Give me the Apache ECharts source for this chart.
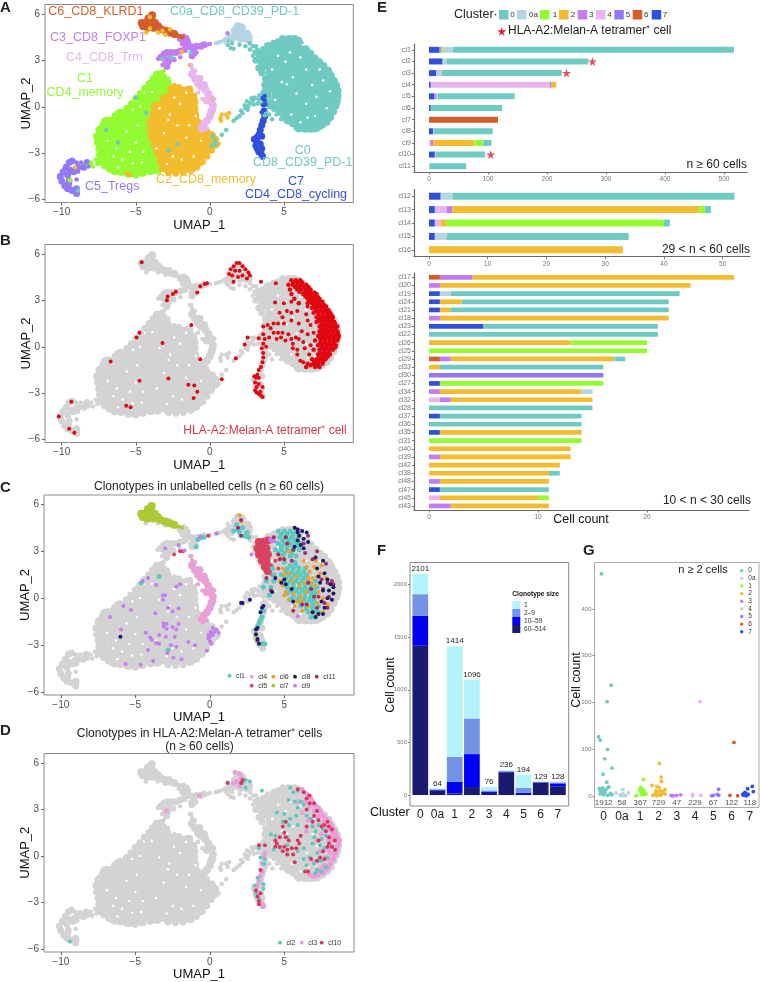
<!DOCTYPE html>
<html><head><meta charset="utf-8">
<style>html,body{margin:0;padding:0;background:#fff}#c{width:760px;height:982px}</style>
<script src="https://cdn.jsdelivr.net/npm/echarts@6/dist/echarts.min.js"></script>
</head><body><div id="c"></div>
<script>
// ---------- UMAP cluster points ----------
const c0Core=[[5.0,4.2],[5.5,4.25],[5.9,4.2],
[4.1,3.7],[4.5,3.75],[5.0,3.7],[5.5,3.7],[6.0,3.7],[6.4,3.6],
[3.6,3.2],[4.2,3.2],[4.7,3.2],[5.2,3.2],[5.7,3.2],[6.2,3.2],[6.7,3.15],[7.0,3.0],
[3.6,2.7],[4.0,2.7],[4.5,2.7],[5.0,2.7],[5.5,2.7],[6.0,2.7],[6.5,2.7],[7.0,2.7],[7.5,2.6],
[4.1,2.2],[4.7,2.2],[5.2,2.2],[5.7,2.2],[6.2,2.2],[6.7,2.2],[7.2,2.2],[7.7,2.2],[8.0,2.05],
[4.0,1.7],[4.5,1.7],[5.0,1.7],[5.5,1.7],[6.0,1.7],[6.5,1.7],[7.0,1.7],[7.5,1.7],[8.0,1.7],[8.2,1.6],
[3.9,1.2],[4.3,1.2],[4.8,1.2],[5.3,1.2],[5.8,1.2],[6.3,1.2],[6.8,1.2],[7.3,1.2],[7.8,1.2],[8.4,1.2],
[3.8,0.7],[4.5,0.7],[5.0,0.7],[5.5,0.7],[6.0,0.7],[6.5,0.7],[7.0,0.7],[7.5,0.7],[8.0,0.7],[8.5,0.7],
[4.2,0.2],[4.7,0.2],[5.2,0.2],[5.7,0.2],[6.2,0.2],[6.7,0.2],[7.2,0.2],[7.7,0.2],[8.2,0.2],[8.45,0.3],
[4.9,-0.3],[5.4,-0.3],[5.9,-0.3],[6.4,-0.3],[6.9,-0.3],[7.4,-0.3],[7.9,-0.3],[8.2,-0.25],
[5.3,-0.8],[5.7,-0.8],[6.2,-0.8],[6.7,-0.8],[7.2,-0.8],[7.7,-0.8],[7.9,-0.7],
[6.0,-1.3],[6.5,-1.3],[7.0,-1.3],[7.3,-1.2]];
const c0Edge=[[4.6,4.2],[4.9,4.4],[5.3,4.4],[5.7,4.4],[6.1,4.1],[6.5,3.75],[6.8,3.45],[7.1,3.15],[7.4,2.9],[7.7,2.65],[8,2.35],[8.2,2],[8.4,1.7],[8.55,1.4],[8.65,1.05],[8.65,0.7],[8.6,0.4],[8.5,0.05],[8.35,-0.3],[8.15,-0.7],[7.9,-1],[7.6,-1.2],[7.2,-1.4],[6.8,-1.45],[6.4,-1.45],[6,-1.4],[5.6,-1.1],[5.3,-0.85],[5,-0.55],[4.7,-0.3],[4.4,-0.1],[4.05,0.05],[3.8,0.4],[3.65,0.9],[3.7,1.4],[3.75,1.8],[3.5,2.2],[3.3,2.5],[3.1,3],[3.3,3.4],[3.6,3.7],[3.9,3.95],[4.3,4.1]];
const c0Dots=[[1.6,-0.9],[1.8,-0.75],[2.0,-0.6],[2.2,-0.4],[2.1,-0.25],[2.4,-0.1],[2.35,0.1],[2.6,0.05],[2.7,0.25],[2.5,0.35],[2.9,0.4],[3.1,0.55],[3.2,0.2],[3.35,0.75],
[3.0,0.6],[3.3,0.45],[2.8,0.55],[3.6,0.3],[3.9,0.1],[3.8,-0.3],[4.0,-0.5],[3.7,-0.55],[4.3,-0.2],[4.5,-0.5],[4.2,-0.8],[4.8,-0.8],[2.55,-0.2],[2.95,0.15],[3.45,0.2],
[1.2,4.0],[1.4,3.8],[1.6,3.75],[2.0,4.0],[2.4,3.9],[2.7,3.7],[3.0,3.55],[3.2,3.35],[2.9,3.9],[2.7,4.1],[3.4,3.6],[3.6,3.7],[3.2,3.7],[1.2,4.3],[1.5,4.1],[2.9,3.3],[3.1,3.9],
[0.2,-1.9],[1.1,-1.5],[0.8,-1.8],[0.4,-2.4],[0.1,-2.5],[0.35,-2.2],[-2.2,-2.4],[-2.8,-2.8],[-6.2,-2.3],[-7,-1.5],[-5,0.6],[-4.3,-0.4],[-8.9,-5.4],[-2.4,3.1],[-1.3,3.5],[-3.2,3.1],[-2.6,3.2]];
const c0aCore=[[1.9,5.2],[2.15,5.1],[1.7,4.9],[2.1,4.75],[2.5,4.7],[1.6,4.5],[2.05,4.4],[2.6,4.35],[1.35,4.4],[1.85,5.0]];
const c0aDots=[[0.7,4.2],[0.4,4.1],[0.95,4.3],[0.55,4.15],[1.1,4.4],[2.75,4.55],[2.35,4.3],[1.05,4.15]];
const c1Core=[[-3.5,1.9],[-3.55,1.5],[-3.25,1.5],[-2.95,1.5],[-4.0,1.0],[-3.7,1.0],[-3.35,1.0],[-3.0,1.0],
[-4.5,0.5],[-4.2,0.5],[-3.9,0.5],[-3.5,0.5],[-5.1,0],[-4.8,0],[-4.4,0],[-4.0,0],
[-6.1,-0.5],[-5.7,-0.5],[-5.3,-0.5],[-4.8,-0.5],[-4.3,-0.5],
[-7.0,-1],[-6.5,-1],[-6,-1],[-5.5,-1],[-5,-1],[-4.5,-1],[-4.2,-1],
[-7.3,-1.5],[-6.8,-1.5],[-6.3,-1.5],[-5.8,-1.5],[-5.3,-1.5],[-4.8,-1.5],[-4.3,-1.5],
[-7.4,-2],[-7,-2],[-6.5,-2],[-6,-2],[-5.5,-2],[-5,-2],[-4.5,-2],[-4.1,-2],
[-7.2,-2.5],[-6.8,-2.5],[-6.3,-2.5],[-5.8,-2.5],[-5.3,-2.5],[-4.8,-2.5],[-4.3,-2.5],[-3.9,-2.5],
[-7.2,-3],[-6.5,-3],[-6,-3],[-5.5,-3],[-5,-3],[-4.5,-3],[-4,-3],[-3.7,-3],
[-7.2,-3.5],[-6.8,-3.5],[-6.3,-3.5],[-5.8,-3.5],[-5.3,-3.5],[-4.8,-3.5],[-4.3,-3.5],[-3.8,-3.5],[-3.5,-3.5],
[-6.5,-4],[-6,-4],[-5.5,-4],[-5,-4],[-4.5,-4],[-4,-4],[-3.6,-4],[-5.5,-4.2],[-5.1,-4.2],[-4.6,-4.15]];
const c1Edge=[[-3.6,2.1],[-3.85,1.8],[-4.1,1.5],[-4.4,1.2],[-4.7,0.85],[-5,0.55],[-5.3,0.2],[-5.6,-0.1],[-6,-0.35],[-6.4,-0.6],[-6.8,-0.85],[-7.2,-1.15],[-7.5,-1.5],[-7.65,-1.9],[-7.6,-2.3],[-7.5,-2.7],[-7.45,-3.1],[-7.5,-3.5],[-7.1,-3.8],[-6.8,-4],[-6.4,-4.2],[-6,-4.25],[-5.5,-4.35],[-5,-4.4],[-4.5,-4.3],[-4,-4.2],[-3.5,-4.15],[-3.1,1.9],[-3.3,2.15]];
const c1Dots=[[-8,-3.6],[-7.7,-3.4],[-8.2,-3.8],[-7.9,-3.85],[-7.6,-3.7],[-9.45,-4.75],[-3.1,2.3],[-2.8,1.8]];
const c2Core=[[-2.5,1],[-2,1],[-1.5,1],[-3,0.5],[-2.5,0.5],[-2,0.5],[-1.5,0.5],[-1.2,0.5],
[-3.6,0],[-3.1,0],[-2.6,0],[-2.1,0],[-1.6,0],[-1.2,0],
[-3.7,-0.5],[-3.3,-0.5],[-2.8,-0.5],[-2.3,-0.5],[-1.8,-0.5],[-1.3,-0.5],[-1.1,-0.5],
[-3.9,-1],[-3.4,-1],[-2.9,-1],[-2.4,-1],[-1.9,-1],[-1.4,-1],[-1,-1],
[-3.9,-1.5],[-3.4,-1.5],[-2.9,-1.5],[-2.4,-1.5],[-1.9,-1.5],[-1.4,-1.5],[-0.9,-1.5],[-0.5,-1.5],
[-3.8,-2],[-3.3,-2],[-2.8,-2],[-2.3,-2],[-1.8,-2],[-1.3,-2],[-0.8,-2],[-0.3,-2],[0.1,-2],
[-3.6,-2.5],[-3.1,-2.5],[-2.6,-2.5],[-2.1,-2.5],[-1.6,-2.5],[-1.1,-2.5],[-0.6,-2.5],[-0.1,-2.5],[0.2,-2.4],
[-3.4,-3],[-2.9,-3],[-2.4,-3],[-1.9,-3],[-1.4,-3],[-0.9,-3],[-0.4,-3],
[-3.2,-3.5],[-2.7,-3.5],[-2.2,-3.5],[-1.7,-3.5],[-1.2,-3.5],[-0.7,-3.5],
[-2.8,-4],[-2.3,-4],[-1.8,-4],[-1.3,-3.95]];
const c2Edge=[[-1.35,1.15],[-1.1,0.7],[-1,0.3],[-1,-0.1],[-0.95,-0.6],[-0.8,-1],[-0.55,-1.2],[-0.2,-1.6],[0.15,-1.8],[0.4,-2.1],[0.4,-2.45],[0.1,-2.8],[-0.2,-3.2],[-0.5,-3.55],[-0.9,-3.9],[-1.3,-4.1],[-1.8,-4.25],[-2.3,-4.3],[-2.8,-4.25],[-3.2,-4],[-2.1,1.25],[-2.6,1.2]];
const c2Dots=[[0.7,-0.75],[0.8,-0.5],[1.1,-0.5],[1.3,-0.4],[0.75,-0.9],[1.2,-0.7],[0.2,0.5],[-2.4,1.4],[-2.5,1.25],[-5.6,-4.3],[-5.4,-4.4],[-3.3,-3.4],[-1.9,3.55],[-1.35,2.7],[-3.5,4.8],[-3.2,4.9],[-4.05,5.05],[-2.7,5.0],[-4.3,4.8],[-3.0,4.65],[-4.05,5.8],[-9.1,-3.9],[0.6,-2.4]];
const c3Core=[[-3.3,3.2],[-3.1,3.4],[-2.9,3.5],[-2.6,3.5],[-2.3,3.5],[-2.0,3.6],[-1.7,3.7],[-1.5,3.9],[-1.8,4.1],[-1.5,4.2],[-1.3,3.9],[-1.1,3.7],[-0.9,3.9],[-0.6,3.9],[-0.4,4.0],[-2.9,2.6],[-2.8,2.9],[-2.7,3.1],[-3.0,3.0],[-2.0,4.4],[-1.6,4.4],[-1.2,3.3]];
const c3Dots=[[-0.2,4.0],[0,4.05],[-2.0,3.2],[-2.4,3.0],[-1.0,3.4],[-0.9,3.5],[1.2,4.75],[-3.2,2.7],[-1.75,4.6],[-3.5,3.1]];
const c4Core=[[-1.2,2.1],[-1.0,1.8],[-0.8,1.5],[-0.6,1.3],[-0.3,1.1],[-0.1,0.8],[0.1,0.5],[0.2,0.1],[0.1,-0.3],[0,-0.6],[-0.2,-0.9],[-0.4,-1.1],[-0.5,-1.4],[-0.2,0.4],[-0.7,1.8],[-0.4,1.4]];
const c4Dots=[[-1.25,2.7],[-1.2,2.45],[-1.0,2.3],[-0.8,0.9],[-0.7,-1.3],[-0.2,-1.4],[0.3,0.5],[0.3,-0.2],[-0.5,0.5]];
const c5Core=[[-8.3,-3.6],[-8.5,-3.9],[-8.9,-3.9],[-9.3,-3.5],[-9.5,-3.6],[-9.7,-3.9],[-9.9,-4.2],[-10.1,-4.5],[-10.0,-4.8],[-9.8,-5.1],[-9.6,-5.3],[-9.3,-5.4],[-9.0,-5.6],[-9.6,-4.4],[-9.5,-4.8],[-9.2,-4.2],[-9.0,-5.3],[-9.4,-4.1],[-9.55,-5.05]];
const c5Dots=[[-8.2,-3.85],[-8.9,-4.2],[-9.0,-4.7],[-8.7,-3.6],[-9.0,-3.6]];
const c6Core=[[-4.6,5.4],[-4.3,5.4],[-4.0,5.5],[-3.9,5.9],[-4.2,5.1],[-3.8,5.1],[-3.5,5.2],[-3.3,5.0],[-3.0,4.9],[-2.7,4.8],[-2.4,4.7],[-4.5,5.2],[-3.95,5.7],[-4.15,5.7],[-3.7,5.4]];
const c6Dots=[[-2.2,4.6],[-2.0,4.55],[-1.85,4.5]];
const c7Core=[[3.7,-0.6],[3.6,-0.9],[3.5,-1.2],[3.4,-1.5],[3.3,-1.8],[3.15,-2.0],[3.0,-2.1],[3.2,-2.3],[3.1,-2.5],[3.2,-2.7],[3.3,-2.9],[3.45,-3.0],[3.55,-3.2],[3.5,-1.9],[3.4,-2.4],[3.5,-2.7]];
const c7Dots=[[3.7,0.7],[3.7,0.4],[3.6,0.1],[3.7,-0.2],[3.6,-0.2],[3.55,0.55],[3.75,0.15],[3.5,-0.35]];
const holes=[[4.6,3.3],[6.1,3.2],[6.5,2.4],[5.85,0.85],[7.2,0.65],[7.65,1.7],[5.6,1.9],[5.4,3.5],[7.9,-0.1],[6.6,-0.7],[4.85,1.6],[6.5,0.2],
[-2.7,-0.5],[-3.4,-0.1],[-2.8,-0.85],[-2.0,0.2],[-1.4,-1.2],[-2.5,-3.2],[-1.6,-2.0],[-4.7,0],[-5.2,-0.2],[-6.5,-3.2],[-5.9,-3.4],[-5.2,-3.65],[-6.2,-3.9],[-4.5,-2.9],[-3.9,0.95],[-0.95,-0.6],[-0.65,-0.2],
[-5.6,-1.6],[-6.3,-2.7],[-4.9,-1.2],[-4.6,-3.6],[-5.4,-2.9],[-6.9,-2.2],[-3.1,-1.7],[-2.2,-1.2],[-1.1,-3.2],[-2.9,-3.7],[-1.9,-3.4],[-0.6,-2.2],[-3.6,-2.7],[-2.4,0.6],[-1.6,0.9],[-5.0,-2.3],[5.1,2.9],[4.2,2.4],[6.9,1.4],[7.4,2.4],[8.1,1.0],[6.1,-1.0],[5.5,-0.5],[4.4,0.45],[6.3,4.0],[7.1,-0.6],[5.2,1.45]];
// ---------- panel B overlay ----------
const tetramerSparse=[[-4.6,5.45],[-6.7,-0.95],[-4.75,0.9],[-4.95,0.6],[-3.2,0.25],[-1.25,1.4],[-0.65,-0.8],[0.8,-2.1],[-4.75,-2.2],[-2.8,-2.05],[-1.45,-2.45],[-1.05,-2.5],[-0.85,-2.9],[-1.1,-3.3],[-5.65,-3.8],[-5.35,-3.9],[-9.35,-3.55],[-10.2,-4.5],[-9.5,-5.3],[-9.15,-5.55],[-2.3,3.55],[-2.5,3.4],[-2.85,3.25],[-2.9,3.0],[-0.85,3.5],[-0.65,3.9],[-0.35,4.05],[-0.2,4.1],[1.6,4.2],[1.75,-0.75],[2.35,0.15],[2.55,0.6],[3.3,0.55],[3.45,4.2],
[1.3,4.7],[1.4,5.0],[1.6,5.2],[1.8,5.4],[2.0,5.4],[2.2,5.2],[2.4,5.0],[2.6,4.8],[2.7,4.6],[1.7,4.9],[2.0,4.9],[2.2,4.6],[2.5,4.4],[1.9,4.5],[1.5,4.6],
[3.6,-0.7],[3.55,-1.0],[3.45,-1.3],[3.3,-1.5],[3.2,-1.8],[3.1,-2.0],[3.05,-2.3],[3.0,-1.9],[3.3,-2.0],[3.3,-2.4],[3.15,-2.6],[3.05,-2.8],[3.15,-2.95],[3.3,-3.05],[3.45,-3.15],[3.55,-3.25],[3.4,-2.9],[3.55,-2.6],
[4.45,4.1],[4.4,2.85],[5.0,2.8],[5.5,2.9],[6.0,2.8],[5.2,2.3],[4.7,2.2],[4.9,1.9],[5.5,2.2],[5.9,2.3],[6.5,2.1],[4.3,1.5],[3.9,1.4],[3.6,1.3],[4.1,1.2],[4.6,1.5],[5.0,1.5],[5.5,1.7],[4.3,0.9],[4.6,0.9],[4.9,0.9],[4.5,0.5],[4.8,0.6],[5.1,0.4],[5.3,0.8],[5.5,0.5],[3.6,0.8],[3.7,0.5],[3.6,0.2],[3.8,0.0],[4.0,0.6],[5.6,0.2],[5.8,0.6],[5.9,-0.2],[5.6,-0.1],[6.0,0.5],[6.3,0.3],[6.6,0.8],[6.2,1.0],[6.0,1.5],[6.6,1.7],[6.4,-0.1],[6.8,0.1],[5.9,-0.5],[6.1,-0.9],[6.3,-1.0],[6.7,-0.5],[7.0,0.9],[6.8,1.4],[6.6,2.6],[3.5,-0.1],[3.6,-0.4]];
const tetramerDense=[[5.5,4.3],[5.8,4.3],[6.1,4.3],[5.3,4.0],[5.6,4.0],[5.9,4.0],[6.2,4.0],[6.5,4.0],[5.4,3.7],[5.9,3.7],[6.2,3.7],[6.5,3.7],[6.8,3.7],[5.5,3.4],[6.3,3.4],[6.6,3.4],[6.9,3.4],[7.2,3.4],[5.7,3.1],[6.6,3.1],[6.9,3.1],[7.2,3.1],[7.4,3.1],[6.0,2.8],[6.6,2.8],[6.9,2.8],[7.2,2.8],[7.5,2.8],[7.7,2.7],[6.9,2.5],[7.2,2.5],[7.5,2.5],[7.8,2.5],[7.0,2.2],[7.3,2.2],[7.6,2.2],[7.9,2.2],[8.1,2.2],[7.2,1.9],[7.5,1.9],[7.8,1.9],[8.1,1.9],[8.3,1.9],[7.2,1.6],[7.5,1.6],[7.8,1.6],[8.1,1.6],[8.4,1.6],[7.4,1.3],[7.7,1.3],[8,1.3],[8.3,1.3],[8.6,1.3],[7.4,1],[7.7,1],[8,1],[8.3,1],[8.6,1],[7.3,0.7],[7.6,0.7],[7.9,0.7],[8.2,0.7],[8.5,0.7],[8.7,0.7],[7.1,0.4],[7.5,0.4],[7.8,0.4],[8.1,0.4],[8.4,0.4],[8.6,0.4],[7.3,0.1],[7.6,0.1],[7.9,0.1],[8.2,0.1],[8.5,0.1],[7,-0.2],[7.4,-0.2],[7.7,-0.2],[8,-0.2],[8.3,-0.2],[7.3,-0.5],[7.6,-0.5],[7.9,-0.5],[8.1,-0.5],[6.9,-0.8],[7.2,-0.8],[7.5,-0.8],[7.8,-0.8],[6.6,-1.1],[7,-1.1],[7.3,-1.1],[7.6,-1.1],[6.5,-1.3],[7.1,-1.3],[7.4,-1.3]];
const tetramerDense2=[[5.65,4.15],[5.95,4.15],[6.25,4.15],[5.75,3.85],[6.05,3.85],[6.35,3.85],[6.65,3.85],[6.05,3.55],[6.45,3.55],[6.75,3.55],[7.05,3.5],[6.45,3.25],[6.75,3.25],[7.05,3.25],[7.3,3.2],[6.75,2.95],[7.05,2.95],[7.35,2.95],[7.6,2.9],[7.05,2.65],[7.35,2.65],[7.65,2.65],[7.85,2.6],[7.15,2.35],[7.45,2.35],[7.75,2.35],[8.0,2.35],[7.35,2.05],[7.65,2.05],[7.95,2.05],[8.2,2.05],[7.35,1.75],[7.65,1.75],[7.95,1.75],[8.25,1.75],[7.55,1.45],[7.85,1.45],[8.15,1.45],[8.45,1.45],[7.55,1.15],[7.85,1.15],[8.15,1.15],[8.45,1.15],[7.45,0.85],[7.75,0.85],[8.05,0.85],[8.35,0.85],[8.65,0.85],[7.45,0.55],[7.75,0.55],[8.05,0.55],[8.35,0.55],[8.65,0.55],[7.45,0.25],[7.75,0.25],[8.05,0.25],[8.35,0.25],[7.55,-0.05],[7.85,-0.05],[8.15,-0.05],[8.45,-0.05],[7.45,-0.35],[7.75,-0.35],[8.05,-0.35],[7.4,-0.65],[7.7,-0.65],[7.95,-0.65],[7.05,-0.95],[7.35,-0.95],[7.65,-0.95],[6.8,-1.2],[7.2,-1.2]];
// ---------- panel C overlay (clonotypes in unlabelled cells) ----------
const clCCl1=[[4.6,4.3],[5,4.3],[5.4,4.3],[5.8,4.3],[4.7,3.9],[5.1,3.9],[5.5,3.9],[5.9,3.9],[4.6,3.5],[5,3.5],[5.4,3.5],[5.8,3.5],[6.1,3.5],[4.4,3.1],[4.8,3.1],[5.2,3.1],[5.6,3.1],[6,3.1],[4.9,2.7],[5.4,2.7],[5.8,2.7],[5,2.3],[5.7,2.3],[5.2,1.9],[5.6,1.9],[6,1.9],[6.4,1.9],[4.2,1.9],[4.3,1.5],[4.8,1.5],[5.3,1.5],[5.7,1.5],[6.1,1.5],[6.5,1.5],[3.8,1.1],[4.3,1.1],[5,1.1],[5.4,1.1],[5.8,1.1],[6.2,1.1],[6.6,1.1],[7.1,1.1],[3.6,0.7],[4.1,0.7],[5.2,0.7],[5.6,0.7],[6,0.7],[6.4,0.7],[6.8,0.7],[7.2,0.7],[5.2,0.3],[5.6,0.3],[6,0.3],[6.4,0.3],[6.8,0.3],[7.1,0.3],[5.4,-0.1],[5.9,-0.1],[6.3,-0.1],[6.7,-0.1],[7,-0.1],[6.1,-0.5],[6.5,-0.5],[6.9,-0.5],[7.3,-0.5],[6.6,-0.9],[7,-0.9],[7.3,-0.9],[6.8,-1.2],[7.1,-1.2],[1.8,4.7],[1.9,4.4],[2.0,4.2],[2.3,4.0],[2.6,3.9],[2.2,4.5],[2.5,4.2],[1.6,4.3],[3.5,-1.2],[3.3,-1.6],[3.4,-1.4],[3.6,-0.8],[4.0,0.2],[3.2,-1.8],[3.5,-2.9],[3.7,-2.9],[-0.9,3.3],[-0.6,3.9],[-0.4,3.9],[-0.8,3.75],[-2.8,-3.3],[-3.4,1.4],[-4.6,1.0],
[4.8,4.1],[5.2,4.1],[5.6,4.1],[4.9,3.7],[5.3,3.7],[5.7,3.7],[4.8,3.3],[5.2,3.3],[5.6,3.3],[6,3.3],[4.6,2.9],[5,2.9],[5.5,2.9],[5.4,2.1],[5.8,2.1],[5.1,1.7],[5.5,1.7],[5.9,1.7],[6.3,1.7],[5.1,1.3],[5.5,1.3],[5.9,1.3],[6.3,1.3],[5.2,0.9],[5.6,0.9],[6,0.9],[6.4,0.9],[6.8,0.9],[5.4,0.5],[5.8,0.5],[6.2,0.5],[6.6,0.5],[7,0.5],[5.6,0.1],[6,0.1],[6.4,0.1],[6.8,0.1],[6.1,-0.3],[6.5,-0.3],[6.9,-0.3],[6.5,-0.7],[6.9,-0.7],[7.1,-0.7]];
const clCCl5=[[3.3,3.6],[3.6,3.6],[3.9,3.7],[3.2,3.2],[3.5,3.2],[3.8,3.2],[3.3,2.8],[3.6,2.8],[3.9,2.8],[3.5,2.4],[3.8,2.4],[3.7,2.0],[4.0,2.0],[3.9,1.75]];
const clCCl5Dots=[[-2.4,2.8],[-2.0,3],[-1.8,3.0],[-0.1,4.0],[4.2,1.5],[4.6,1.9],[4.4,2.4]];
const clCCl6=[[4.9,1.9],[5.3,1.6],[4.7,1.1],[4.9,0.8],[5.1,0.4],[5,0.2],[5.3,-0.1],[5.6,0.3],[5.9,-0.2],[5.7,-0.5],[6.2,-0.8],[6,0.8],[6.4,1],[6.5,0.4],[6.9,1.3],[7.1,0.8],[7.3,0.4],[7.4,1.6],[7,2],[6.7,1.7],[6.5,2],[6.3,2.4],[7.5,2.1],[7.8,1.3],[7.6,0],[7.9,-0.4],[7.2,-0.3],[6.6,-0.5],[6.9,-0.9],[7.2,-1.1],[7.6,-0.9],[6.2,-0.2],[5.5,1.1],[5.8,1.4],[7.1,2.4],[6,4],[5.3,3],[4.8,2.6],[3.1,-2.4],[2,5.3],[2.1,4.9],[6.8,1],[6.6,1.3],[7.2,1.4],[5,1.5],[6.1,0.1]];
const clCCl8=[[5.7,4.5],[5.9,4.4],[6.2,4.3],[6.5,4.2],[6,4],[6.3,3.8],[5.9,3.7],[6.6,3.6],[6.1,3.4],[5.7,3.3],[6.3,3.2],[5.9,4.2],[7.1,2.6],[7.6,2.4],[7.2,1.9],[7.7,1.6],[7.3,1.4],[7.9,1.2],[8.1,0.9],[8.3,0.7],[8,0.5],[8.3,0.3],[7.9,0],[8.2,-0.1],[7.5,-0.2],[7.7,-0.6],[7.3,-1],[7.6,-1],[7.1,-1.2],[6.9,-0.9],[5,1.2],[5.1,0.9],[5.5,0.6],[4.8,1],[4.4,1.3],[4.2,0.4],[5.6,-0.2],[2.7,-0.1],[2.2,-0.3],[2.1,-0.3],[3.5,-0.6],[3.6,-0.5],[3.4,-0.9],[3.2,-1.9],[3.1,-2],[3.1,-2.3],[3.2,-2.6],[3.3,-2.9],[-6,-2.45],[7.4,1],[7.6,0.5]];
const clCCl9=[[-6.7,-1.2],[-5.8,-0.5],[-5.3,-0.75],[-5.95,-2],[-5.65,-4.2],[-4.65,-4.25],[-4.15,-3.3],[-3.8,-4],[-2.45,-3.8],[-1.9,-3.9],[-2.85,-3.5],[-2.6,-3],[-2.25,-3.1],[-1.45,-2.8],[-1,-3],[-0.2,-3.35],[-3.6,-2.85],[-3.4,-2.9],[-3.9,-2.65],[-4,-2.5],[-4.3,-2.2],[-3.65,-0.95],[-2.8,-0.6],[-2.5,-0.85],[-2.1,-0.65],[-3.1,-1.6],[-2.9,-1.65],[-3.1,-1.8],[-2.9,-1.95],[-2.5,-1.85],[-2.25,-2],[-2.1,-1.65],[-2.35,-2.45],[-2.95,-2.45],[-3.4,-2.35],[-3.15,0.2],[-3,0.2],[-3.15,-0.1],[-3.6,0.85],[-4.15,1.3],[-4.5,1.1],[-2.25,0.75],[-2,0.9],[-3,3.2],[-2.1,3.4],[-1.7,3.05],[-0.65,3.95],[0.45,4.15],[0.2,-1.9],[0.45,-2],[0.1,-2.25],[0,-2.45],[-0.1,-2.55],[0.2,-2.35],[0,-2.75],[0.1,-2.9],[0.6,-2.2],[0.3,-2.15],[-0.1,-2.35],[0.05,-2.15],[4.25,3.85],[4.15,3.65],[4.35,3.65],[4.05,3.75],[2.8,2.8],[5.9,-1.15]];
const clCCl11=[[4.3,3.9],[5.1,3.9],[5.2,3.5],[5.6,3.1],[4.6,2.8],[5.5,2.4],[4.7,2.5],[5,2.5],[6.4,2.9],[6.6,4],[6.3,3.5],[7.2,3],[6.9,2.5],[7.8,2.2],[7.5,1.2],[7.9,1],[8.2,1.1],[7.6,0.6],[6.8,0.6],[7.3,0.1],[7,0.1],[6.5,-0.4],[7.2,-0.6],[7.7,-0.3],[6.2,-0.4],[5.6,-0.8],[6.6,1],[2.1,4],[1.9,4.5],[2.1,5],[3.2,-2.7],[7.9,-0.6],[8,0.1],[8.3,0.9],[4.1,0.5],[3.8,1.3]];
// ---------- panel D overlay (clonotypes in tetramer+ cells) ----------
const clDCl3=[[6.2,4.3],[6.5,4],[6.8,3.7],[7,3.3],[7.3,3.1],[7.5,2.7],[7.8,2.4],[8,2.2],[8.2,1.9],[8.4,1.6],[8.5,1.3],[8.7,1],[8.6,0.7],[8.5,0.4],[8.4,0.1],[8.3,-0.2],[8.1,-0.5],[7.9,-0.8],[7.6,-1.1],[7.3,-1.2],[7,-1.3],[6.7,-1.2],[6.4,3.5],[6.7,3.2],[7,2.9],[7.3,2.5],[7.6,2.1],[7.9,1.8],[8.2,1.4],[8.3,1],[8.2,0.6],[8.1,0.2],[8,-0.2],[7.7,-0.6],[7.4,-0.9],[6.9,1.9],[6.6,2.3],[6.2,2.8],[7.5,1.4],[7.2,1],[5.9,3.5],[6.5,1.6],[7.4,0.3],[7,-0.4],[3.5,-1],[3.4,-1.3],[3.3,-1.6],[3.2,-1.9],[3.1,-2.3],[3.3,-2.8],[3.4,-3],[3.55,-3.15],[3.6,-3.25],[3.5,-0.5],[3.7,0.2],[3.65,0],[1.7,5.4],[2,5.3],[2.1,5],[1.8,4.8],[2,4.5],[-0.7,3.9],[-2.9,2.9],[2.3,4.9],[1.6,4.7],
[6.35,4.1],[6.65,3.85],[6.9,3.5],[7.15,3.2],[7.4,2.9],[7.65,2.55],[7.9,2.3],[8.1,2.05],[8.3,1.75],[8.45,1.45],[8.6,1.15],[8.65,0.85],[8.55,0.55],[8.45,0.25],[8.35,-0.05],[8.2,-0.35],[8,-0.65],[7.75,-0.95],[7.45,-1.05],[7.15,-1.25],[6.85,-1.25],[7.15,3.0],[7.4,2.7],[7.7,2.3],[8.05,1.7],[8.25,1.2],[8,1.05],[7.95,0.4],[7.8,-0.1],[7.55,-0.75]];
const clDCl2=[[5.4,4.4],[5.6,4.1],[5.9,4.2],[5.3,3.6],[5.7,3.5],[6.1,3.5],[5.9,3.1],[6.3,3.3],[4.5,2.8],[5,2.7],[5.4,2.4],[5.8,2.6],[4.9,2.2],[5.3,2],[5.9,2],[6.5,2.6],[6.8,2.4],[6.9,1.9],[7.3,2],[7.1,1.6],[7.6,1.7],[7.5,1.1],[7,1.2],[7.4,0.7],[7.7,0.5],[7.2,0.2],[7.9,-0.1],[7.5,-0.3],[7,-0.5],[6.7,-0.1],[6.3,-0.2],[5.9,0.3],[5.2,0.7],[4.7,0.5],[4.4,1.3],[4.1,1.4],[4.3,0.4],[3.3,0.5],[3.4,-0.1],[3.7,-0.2],[3.65,-0.5],[3.2,-1.4],[3.6,-1.8],[3.6,-2.1],[3,-1.9],[3.1,-2.4],[3.3,-2.8],[6.5,-0.6],[7.2,-0.9],[7.5,-1],[7.1,-1.1],[7.8,-0.7],[6.3,0.5],[6.9,0.8],[2.2,4.7],[2.4,4.4],[2.7,4.8],[2.4,4.9],[3.5,4.2],[-9.4,-5.5],[5.2,1.2],[7.8,1.3],[7.3,-0.3]];
const clDCl10=[[5.9,4.3],[6.3,4.1],[6.7,3.9],[6.5,3.7],[6.7,3.4],[6.5,3],[7,3.4],[7.2,2.9],[7,2.6],[7.3,2.3],[6.9,2.2],[7.9,2.2],[7.7,2],[8,1.9],[8.2,1.7],[7.8,1.6],[7.5,1.9],[8,1.2],[8.4,1],[8,0.8],[7.9,0.6],[8.2,0.6],[8.4,0.4],[7.6,0.3],[7.4,-0.1],[7.7,-0.2],[7.2,-0.3],[6.8,-0.2],[5.1,2.2],[4.9,1.9],[5,1.5],[5.1,1.2],[5.3,1],[4.7,1.2],[4.4,1],[4.5,0.8],[4.7,0.6],[5,0.6],[4.4,0.6],[4.9,0.3],[5.2,0.4],[5.5,0.5],[6,0.8],[6.1,1.3],[5.9,1],[5.8,0.5],[5.6,0.1],[5.7,-0.4],[5.2,0.1],[6.6,-1],[6.4,-1],[3.7,0.7],[3.3,0.7],[3.4,-0.9],[3.1,-2.2],[3.2,-2.6],[3.4,-2.4],[3.3,-2.9],[3.3,-3.1],[1.2,4.7],[2.2,4.9],[2.1,4.7],[7.3,1],[6.5,1.9]];
// ---------- panel E bars ----------
const e1Clones=['cl1','cl2','cl3','cl4','cl5','cl6','cl7','cl8','cl9','cl10','cl11'];
const e1C7=[18,23,12,3,9,3,0,7,0,10,0];
const e1C6=[0,0,0,0,0,0,117,0,0,0,0];
const e1C5=[0,0,0,0,0,0,0,0,0,0,0];
const e1C4=[0,0,0,202,0,0,0,0,3,0,0];
const e1C3=[3,0,1,3,3,0,0,0,4,0,0];
const e1C2=[1,0,0,7,0,0,0,0,70,0,0];
const e1C1=[3,0,0,1,0,0,0,0,15,0,0];
const e1C0a=[15,7,9,0,3,0,0,1,0,2,1];
const e1C0=[477,240,203,0,130,121,0,100,14,83,62];
const e1Stars=[[277,'cl2'],[233,'cl3'],[104.5,'cl10']];
const e2Clones=['cl12','cl13','cl14','cl15','cl16'];
const e2C7=[2,1,1,1,0];
const e2C6=[0,0,0,0,0];
const e2C5=[0,0,0,0,0];
const e2C4=[0,2,1,0,0];
const e2C3=[0,1,0,0,0];
const e2C2=[0,42,1,0,33];
const e2C1=[0,1,37,0,0];
const e2C0a=[2,0,0,2,0];
const e2C0=[48,1,1,31,0];
const e3Clones=['cl17','cl20','cl19','cl24','cl21','cl18','cl23','cl22','cl26','cl25','cl29','cl33','cl30','cl27','cl34','cl32','cl28','cl37','cl36','cl35','cl31','cl40','cl39','cl42','cl38','cl48','cl47','cl45','cl43'];
const e3C7=[0,0,1,1,1,0,5,0,0,0,0,0,0,1,0,0,0,1,0,1,0,0,0,0,0,0,1,0,0];
const e3C6=[1,0,0,0,0,0,0,0,0,0,1,0,0,0,0,0,0,0,0,0,0,0,0,0,0,0,0,0,0];
const e3C5=[0,0,0,0,0,0,0,0,0,0,0,0,16,0,0,0,0,0,0,0,0,0,0,0,0,0,0,0,0];
const e3C4=[0,0,0,0,0,0,0,0,0,0,0,0,0,0,0,1,0,0,0,0,0,0,0,0,0,0,0,1,0];
const e3C3=[3,1,0,0,0,1,0,0,0,0,1,0,0,0,1,1,0,0,0,0,0,0,1,0,0,1,0,0,2];
const e3C2=[24,23,0,2,1,21,0,0,13,0,15,1,0,0,13,13,0,0,0,13,0,13,12,12,11,10,0,9,9];
const e3C1=[0,0,0,0,0,0,0,0,7,20,0,0,0,15,0,0,0,0,0,0,14,0,0,0,0,0,0,1,0];
const e3C0a=[0,0,1,0,0,0,0,0,0,0,0,0,0,0,1,0,0,0,0,0,0,0,0,0,0,0,0,0,0];
const e3C0=[0,0,21,19,20,0,16,21,0,0,1,15,0,0,0,0,15,13,14,0,0,0,0,0,1,0,10,0,0];
// ---------- panel F ----------
const clusterNames=['0','0a','1','2','3','4','5','6','7'];
const fSize60to514=[1418,42,15,76,20,216,10,115,79];
const fSize10to59=[284,8,112,313,14,5,12,6,32];
const fSize2to9=[206,6,237,339,10,8,45,4,9];
const fSize1=[193,8,1050,368,32,7,127,4,8];
const fTotals=[2101,64,1414,1096,76,236,194,129,128];
const fSizeNames=['1','2–9','10–59','60–514'];
// ---------- panel G ----------
const gC0=[[-0.12,475],[0.41,237],[0.19,202],[-0.28,127],[-0.19,120],[0.21,100],[0.06,80],[0.45,60],[-0.03,47],[0.17,30],[-0.23,17],[-0.01,13],[0.27,20],[-0.19,12],[-0.1,9],[0.08,8],[0.36,5],[-0.19,5],[-0.01,3],[0.21,2],[0.45,3],[0.14,15],[-0.06,18],[0.28,19],[0.39,6],[-0.15,10]];
const gC0a=[[0.68,7],[1.05,14],[1.36,7],[0.9,3],[0.99,2],[1.12,2],[1.05,5],[0.94,1],[1.18,1]];
const gC1=[[2.18,36],[2.03,19],[2.09,15],[1.96,13],[2.21,12],[2.14,8],[2.27,5],[2.09,4],[1.76,1],[1.81,2],[2.32,5],[2.03,10],[2.18,3]];
const gC2=[[3.05,70],[3.14,41],[3.16,32],[2.65,23],[2.91,21],[3.02,19],[3.36,14],[2.87,12],[3.09,12],[3.27,10],[2.95,8],[3.18,6],[2.7,2],[2.99,3],[3.36,5],[3.12,2],[2.91,1],[2.82,5]];
const gC3=[[3.69,2],[3.82,1],[4.0,2],[4.22,3],[3.73,1]];
const gC4=[[5.27,202],[4.87,4],[4.87,1],[5.31,2]];
const gC5=[[6.29,15],[6.22,4],[5.91,1],[6.0,2],[6.3,2]];
const gC6=[[7.13,115],[6.91,2],[7.33,1]];
const gC7=[[8.13,21],[7.88,16],[8.19,10],[7.73,8],[7.64,5],[7.77,3],[7.61,3],[7.82,1],[7.68,2],[7.79,6],[7.91,4]];
const gCounts=[1912,58,367,729,47,229,67,122,118];
// ---------- colours / text ----------
const clusterColor={'0':'#6fcac2','0a':'#b5d5e5','1':'#94fb33','2':'#f3bc2e','3':'#c27df0','4':'#e8b5ef','5':'#9378f5','6':'#d45e2b','7':'#2f4fdc'};
const gray='#d3d3d3',FONT='"Liberation Sans",Arial,sans-serif';
const xTicks=[-10,-5,0,5],yTicks=[-6,-3,0,3,6];

const grids=[],xAxes=[],yAxes=[],series=[],graphic=[];
function txt(x,y,text,size,fill,o){o=o||{};graphic.push({type:'text',x,y,rotation:o.rot||0,z:50,silent:true,style:{text,fill,align:o.align||'left',verticalAlign:'middle',font:(o.bold?'bold ':'')+size+'px '+FONT}});}
function dot(x,y,r,fill){graphic.push({type:'circle',z:50,silent:true,shape:{cx:x,cy:y,r},style:{fill}});}
function square(x,y,w,h,fill){graphic.push({type:'rect',z:50,silent:true,shape:{x,y,width:w,height:h},style:{fill}});}
function fmtMinus(v){return String(v).replace('-','−');}
function umapPanel(l,t,w,h){
 const i=grids.length;
 grids.push({left:l,top:t,width:w,height:h,show:true,borderColor:'#8a8a8a',borderWidth:1,backgroundColor:'#fff'});
 xAxes.push({gridIndex:i,type:'value',min:-11.13,max:9.68,splitLine:{show:false},axisLine:{show:false,onZero:false},
  axisTick:{show:true,length:3,lineStyle:{color:'#666'},customValues:xTicks},
  axisLabel:{customValues:xTicks,formatter:fmtMinus,fontSize:10,color:'#4d4d4d',fontFamily:FONT,margin:5},
  name:'UMAP_1',nameLocation:'middle',nameGap:16,nameMoveOverlap:false,nameTextStyle:{fontSize:13,color:'#111',fontFamily:FONT}});
 yAxes.push({gridIndex:i,type:'value',min:-6.18,max:6.6,splitLine:{show:false},axisLine:{show:false,onZero:false},
  axisTick:{show:true,length:3,lineStyle:{color:'#666'},customValues:yTicks},
  axisLabel:{customValues:yTicks,formatter:fmtMinus,fontSize:10,color:'#4d4d4d',fontFamily:FONT,margin:5},
  name:'UMAP_2',nameLocation:'middle',nameGap:12,nameMoveOverlap:false,nameTextStyle:{fontSize:13,color:'#111',fontFamily:FONT}});
 return i;
}
function pts(i,name,data,size,color,z){series.push({type:'scatter',name,xAxisIndex:i,yAxisIndex:i,data,symbolSize:size,z:z||2,animation:false,silent:true,itemStyle:{color,opacity:1}});}
const clusterLayers=[['1',c1Core,c1Dots,c1Edge],['2',c2Core,c2Dots,c2Edge],['0',c0Core,c0Dots,c0Edge],['0a',c0aCore,c0aDots],['3',c3Core,c3Dots],['4',c4Core,c4Dots],['5',c5Core,c5Dots],['6',c6Core,c6Dots],['7',c7Core,c7Dots]];
const coreSize={'0':11,'1':11,'2':11,'0a':8.5,'3':7,'4':8,'5':7,'6':8,'7':7};
function silhouette(i,colored){
 clusterLayers.forEach(([k,core,dots,edge])=>{
  const col=colored?clusterColor[k]:gray;
  if(edge)pts(i,'C'+k+' edge',edge,7,col,2);
  pts(i,'C'+k,core,coreSize[k],col,2);
  pts(i,'C'+k+' cells',dots,4.5,col,3);
 });
 pts(i,'gaps',holes,2.5,'#fff',3);
}
// Panels A-D
const A=umapPanel(45,4.5,308.3,198); silhouette(A,true);
const B=umapPanel(45,244.5,308.3,198); silhouette(B,false);
pts(B,'tetramer+',tetramerDense,4.5,'#e1060f',5);pts(B,'tetramer+ 2',tetramerDense2,4.5,'#e1060f',5);pts(B,'tetramer+ cells',tetramerSparse,4,'#e1060f',5);
const C=umapPanel(44,495,310,200); silhouette(C,false);
pts(C,'cl7',c6Core,8,'#acc936',5);pts(C,'cl7 cells',c6Dots,4,'#acc936',5);
pts(C,'cl4',c4Core,7.5,'#e9a0d8',5);pts(C,'cl4 cells',c4Dots,4,'#e9a0d8',5);
pts(C,'cl5',clCCl5,8,'#d9435f',5);pts(C,'cl5 cells',clCCl5Dots,4,'#d9435f',5);
pts(C,'cl1',clCCl1,5,'#5cc8be',5);pts(C,'cl6',clCCl6,4,'#f0a025',6);pts(C,'cl9',clCCl9,4,'#c57df0',6);pts(C,'cl11',clCCl11,4,'#a52a6b',6);pts(C,'cl8',clCCl8,4,'#1b1b6e',6);
const D=umapPanel(44,753.5,310,200.5); silhouette(D,false);
pts(D,'cl3',clDCl3,5,'#e89fd8',5);pts(D,'cl2',clDCl2,4,'#5cc8be',6);pts(D,'cl10',clDCl10,4,'#d9365f',6);
// Panel E
function barPanel(l,t,w,h,xMin,xMax,ticks,cats,arrs,barW,catSize){
 const i=grids.length;
 grids.push({left:l,top:t,width:w,height:h,show:false});
 xAxes.push({gridIndex:i,type:'value',min:xMin,max:xMax,splitLine:{show:false},axisLine:{show:true,onZero:false,lineStyle:{color:'#666',width:1.2}},
  axisTick:{show:true,length:2.5,lineStyle:{color:'#777'},customValues:ticks},axisLabel:{customValues:ticks,fontSize:6.5,color:'#777',fontFamily:FONT,margin:4}});
 yAxes.push({gridIndex:i,type:'category',inverse:true,data:cats,axisLine:{show:true,onZero:false,lineStyle:{color:'#666',width:1.2}},
  axisTick:{show:true,length:2,alignWithLabel:true,lineStyle:{color:'#777'}},axisLabel:{interval:0,fontSize:catSize,color:'#777',fontFamily:FONT,margin:3}});
 const keys=['7','6','5','4','3','2','1','0a','0'];
 keys.forEach((k,j)=>series.push({type:'bar',name:'C'+k,stack:'s'+i,xAxisIndex:i,yAxisIndex:i,data:arrs[j],barWidth:barW,animation:false,silent:true,itemStyle:{color:clusterColor[k]}}));
 return i;
}
const E1=barPanel(414,44,333,128,-25.4,539,[0,100,200,300,400,500],e1Clones,[e1C7,e1C6,e1C5,e1C4,e1C3,e1C2,e1C1,e1C0a,e1C0],6,7);
series.push({type:'scatter',name:'tetramer+ clonotype',xAxisIndex:E1,yAxisIndex:E1,data:e1Stars,symbol:'path://M50 0L61 35L98 35L68 57L79 91L50 70L21 91L32 57L2 35L39 35Z',symbolSize:9,animation:false,silent:true,z:6,itemStyle:{color:'#d7263d'}});
barPanel(414,189.5,336,67,-2.55,54.65,[0,10,20,30,40,50],e2Clones,[e2C7,e2C6,e2C5,e2C4,e2C3,e2C2,e2C1,e2C0a,e2C0],7,7);
barPanel(414,273.2,335,236.8,-1.376,29.36,[0,10,20],e3Clones,[e3C7,e3C6,e3C5,e3C4,e3C3,e3C2,e3C1,e3C0a,e3C0],4.7,7);
// Panel F
const Fi=grids.length;
grids.push({left:411.7,top:562.5,width:154.8,height:243.5,show:false});
xAxes.push({gridIndex:Fi,type:'category',data:clusterNames,axisLine:{show:false,onZero:false},axisTick:{show:false},axisLabel:{interval:0,fontSize:12,color:'#222',fontFamily:FONT,margin:3}});
yAxes.push({gridIndex:Fi,type:'value',min:-104,max:2209,splitLine:{show:false},axisLine:{show:false,onZero:false},offset:1.7,
 axisTick:{show:true,length:2,lineStyle:{color:'#777'},customValues:[0,500,1000,1500,2000]},axisLabel:{customValues:[0,500,1000,1500,2000],formatter:v=>String(v),fontSize:6,color:'#777',fontFamily:FONT,margin:3}});
[[fSize60to514,'#1a1a6e','60–514'],[fSize10to59,'#0000f5','10–59'],[fSize2to9,'#7493e6','2–9'],[fSize1,'#b4f3fb','1']].forEach(([d,c,n],j)=>{
 series.push({type:'bar',name:n,stack:'F',xAxisIndex:Fi,yAxisIndex:Fi,data:d,barWidth:15.7,animation:false,silent:true,itemStyle:{color:c},
  label:j===3?{show:true,position:'top',distance:1,fontSize:8,color:'#222',fontFamily:FONT,formatter:p=>fTotals[p.dataIndex]}:{show:false}});
});
// Panel G
const Gi=grids.length;
grids.push({left:594.5,top:562.5,width:164.5,height:245,show:true,borderColor:'#aaa',borderWidth:1,backgroundColor:'#fff'});
xAxes.push({gridIndex:Gi,type:'category',data:clusterNames,axisLine:{show:false,onZero:false},axisTick:{show:false},axisLabel:{interval:0,fontSize:12,color:'#222',fontFamily:FONT,margin:3}});
yAxes.push({gridIndex:Gi,type:'value',min:-24,max:499,splitLine:{show:false},axisLine:{show:false,onZero:false},
 axisTick:{show:true,length:2,lineStyle:{color:'#777'},customValues:[0,100,200,300,400]},axisLabel:{customValues:[0,100,200,300,400],fontSize:6,color:'#777',fontFamily:FONT,margin:3}});
const GvX=xAxes.length;
xAxes.push({gridIndex:Gi,type:'value',min:-0.5,max:8.5,show:false,position:'top'});
[['0',gC0],['0a',gC0a],['1',gC1],['2',gC2],['3',gC3],['4',gC4],['5',gC5],['6',gC6],['7',gC7]].forEach(([k,d])=>{
 series.push({type:'scatter',name:'G'+k,xAxisIndex:GvX,yAxisIndex:Gi,data:d,symbolSize:3.8,animation:false,silent:true,z:4,itemStyle:{color:clusterColor[k],opacity:1}});
});
series.push({type:'scatter',name:'G counts',xAxisIndex:GvX,yAxisIndex:Gi,data:gCounts.map((n,i)=>[i,-13.5,n]),symbolSize:0,animation:false,silent:true,z:5,
 label:{show:true,position:'inside',fontSize:8,color:'#222',fontFamily:FONT,formatter:p=>p.data[2]}});

// Panel letters
[['A',0,8],['B',0,241],['C',0,488],['D',0,731],['E',377,8],['F',377,551],['G',583,551]].forEach(([t,x,y])=>txt(x,y,t,15,'#222',{bold:true}));
// axis names that are not built into an axis
txt(390.7,685,'Cell count',12.5,'#111',{rot:Math.PI/2,align:'center'});
txt(576.7,680,'Cell count',12.5,'#111',{rot:Math.PI/2,align:'center'});
txt(581,520,'Cell count',12.5,'#111',{align:'center'});
txt(370,813,'Cluster',12.5,'#111');
// Panel A labels
const K=clusterColor;
txt(48.3,11.3,'C6_CD8_KLRD1',12.5,K['6']);
txt(170,11.3,'C0a_CD8_CD39_PD-1',12.5,K['0']);
txt(50,37.7,'C3_CD8_FOXP1',12.5,K['3']);
txt(66,57.3,'C4_CD8_Trm',12.5,K['4']);
txt(85,79,'C1',12.5,K['1'],{align:'center'});
txt(85,93,'CD4_memory',12.5,K['1'],{align:'center'});
txt(302.7,150.7,'C0',12.5,K['0'],{align:'center'});
txt(302.7,163,'CD8_CD39_PD-1',12.5,K['0'],{align:'center'});
txt(156,180,'C2_CD8_memory',12.5,K['2']);
txt(85,186.7,'C5_Tregs',12.5,K['5']);
txt(296,181.7,'C7',12.5,K['7'],{align:'center'});
txt(296,195,'CD4_CD8_cycling',12.5,K['7'],{align:'center'});
// Panel B/C/D text
txt(346.7,430.7,'HLA-A2:Melan-A tetramer⁺ cell',12,'#d9364a',{align:'right'});
txt(209,486.7,'Clonotypes in unlabelled cells (n ≥ 60 cells)',12,'#222',{align:'center'});
txt(199.5,734,'Clonotypes in HLA-A2:Melan-A tetramer⁺ cells',12,'#222',{align:'center'});
txt(199.5,746.7,'(n ≥ 60 cells)',12,'#222',{align:'center'});
// Panel C legend
[['cl1','#5cc8be',229.5,675.7],['cl4','#e9a0d8',251.7,676.7],['cl5','#d9435f',251.7,685.7],['cl6','#f0a025',273.3,676.7],['cl7','#acc936',273.3,685.7],['cl8','#1b1b6e',295,676.7],['cl9','#c57df0',295,685.7],['cl11','#a52a6b',316.7,676.7]].forEach(([n,c,x,y])=>{dot(x,y,1.9,c);txt(x+6.5,y,n,7,'#333');});
// Panel D legend
[['cl2','#5cc8be',280],['cl3','#e89fd8',301.7],['cl10','#d9365f',321.7]].forEach(([n,c,x])=>{dot(x,942.7,1.9,c);txt(x+6.5,942.7,n,7,'#333');});
// Panel E legend
txt(454,14.7,'Cluster·',12.5,'#222');
[['0',499,510.3],['0a',517,529],['1',540,552.7],['2',559,570.7],['3',577.7,589],['4',596,607.3],['5',614.3,625.7],['6',632.7,644],['7',651.7,662.7]].forEach(([k,x,tx])=>{square(x,10,9.5,9.5,K[k]);txt(tx,14.7,k,8,'#333');});
graphic.push({type:'polygon',z:50,silent:true,x:497,y:27,scaleX:.095,scaleY:.095,shape:{points:[[50,0],[61,35],[98,35],[68,57],[79,91],[50,70],[21,91],[32,57],[2,35],[39,35]]},style:{fill:'#d7263d'}});
txt(508,31,'HLA-A2:Melan-A tetramer⁺ cell',12,'#222');
txt(747,164.7,'n ≥ 60 cells',12,'#222',{align:'right'});
txt(750,250,'29 < n < 60 cells',12,'#222',{align:'right'});
txt(751,501,'10 < n < 30 cells',12,'#222',{align:'right'});
// Panel F frame + legend
graphic.push({type:'rect',z:40,silent:true,shape:{x:410,y:562.5,width:158.7,height:243.5},style:{fill:'none',stroke:'#8a8a8a',lineWidth:1}});
txt(512.3,594.3,'Clonotype size',6.6,'#111',{bold:true});
[['#b4f3fb',601],['#7493e6',609],['#0000f5',617],['#1a1a6e',625]].forEach(([c,y],i)=>{square(512.3,y,8,8,c);txt(524,y+4,fSizeNames[i],6.6,'#333');});
// Panel G legend
txt(703,570,'n ≥ 2 cells',11,'#222',{align:'center'});
clusterNames.forEach((k,i)=>{const y=570.7+i*7.63;dot(741.7,y,1.7,K[k]);txt(748.3,y,k,6.5,'#333');});

const chart=echarts.init(document.getElementById('c'),null,{renderer:'canvas',width:760,height:982});
chart.setOption({animation:false,backgroundColor:'#fff',grid:grids,xAxis:xAxes,yAxis:yAxes,series,graphic});
</script></body></html>
